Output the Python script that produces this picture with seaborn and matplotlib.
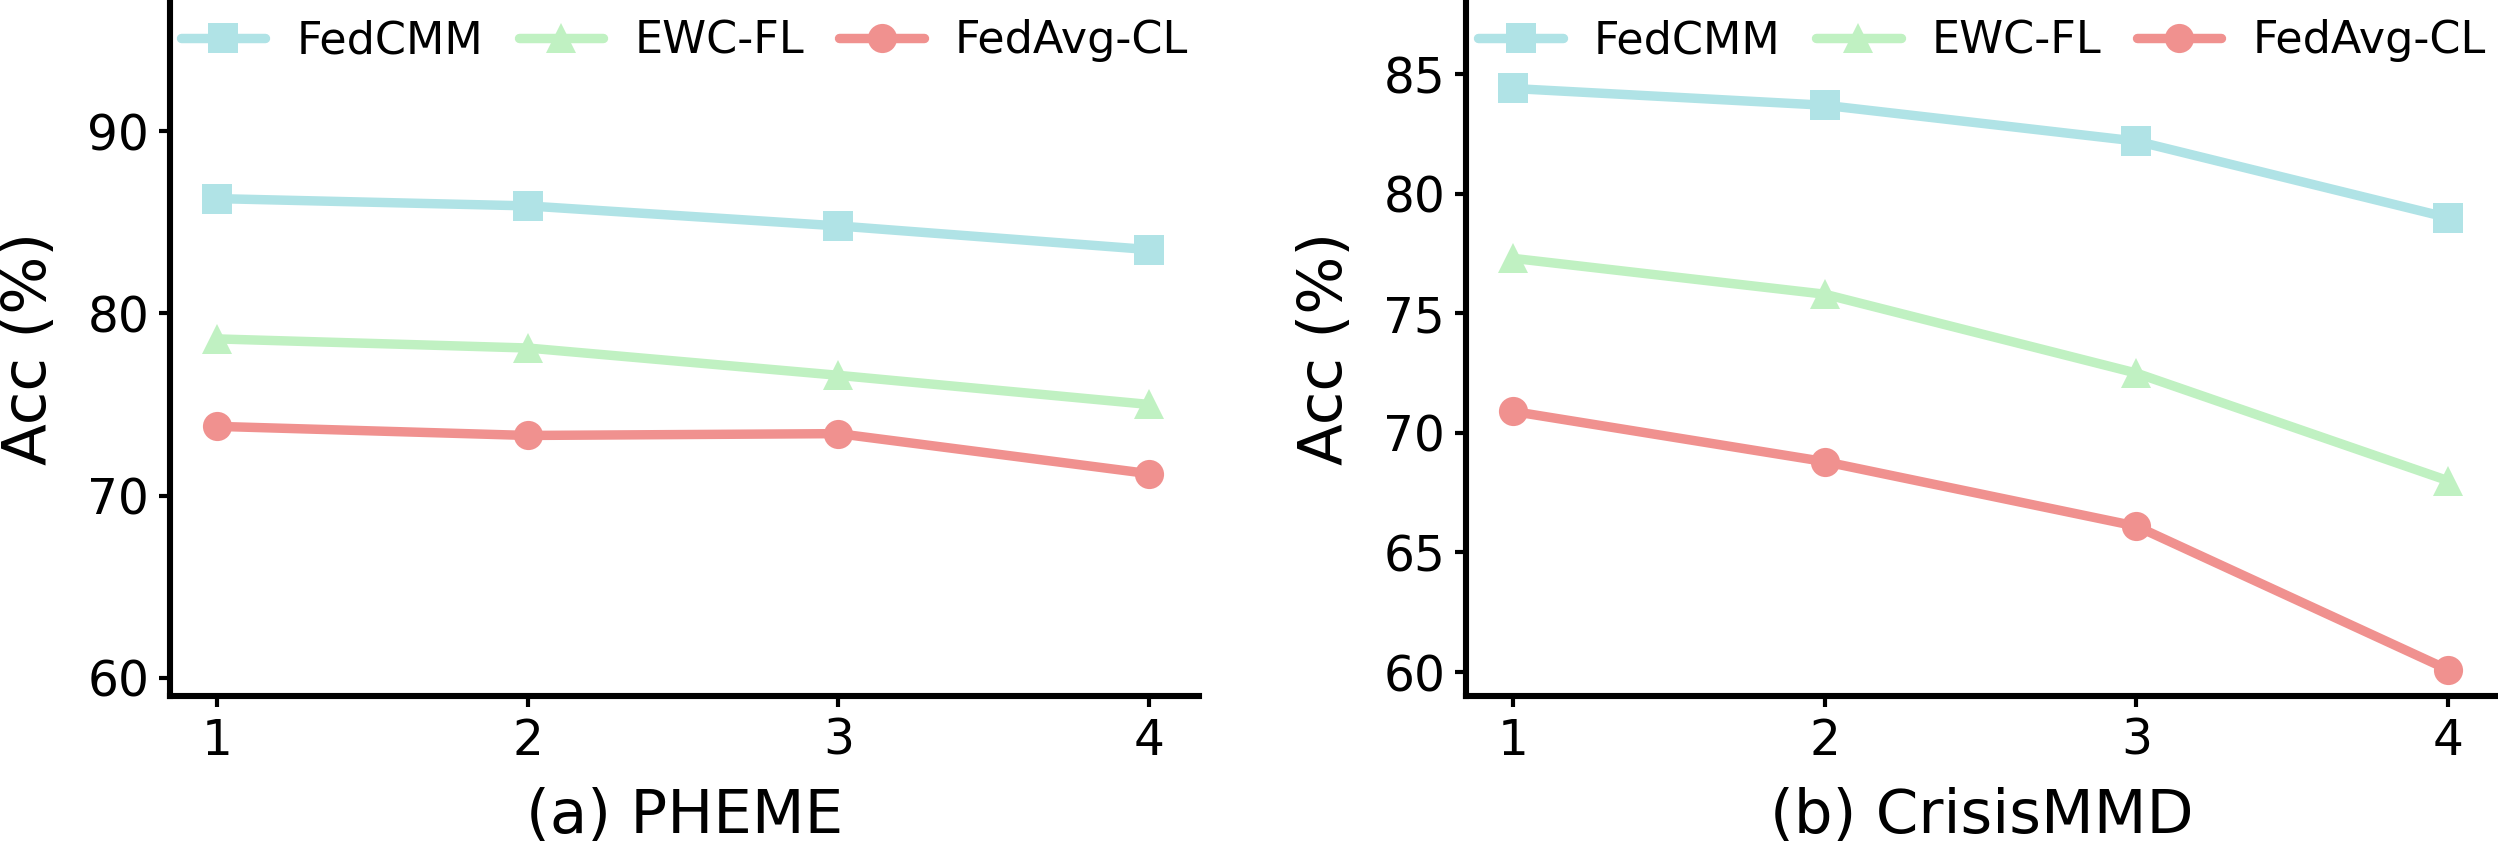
import pandas as pd
import matplotlib
matplotlib.use('Agg')
import matplotlib.pyplot as plt
import seaborn as sns

# data
tasks = [1, 2, 3, 4]
methods = ['FedCMM', 'EWC-FL', 'FedAvg-CL']

pheme_fedcmm = [86.3, 85.9, 84.8, 83.5]
pheme_ewc = [78.6, 78.1, 76.6, 75.0]
pheme_fedavg = [73.8, 73.3, 73.4, 71.2]

crisis_fedcmm = [84.4, 83.7, 82.2, 79.0]
crisis_ewc = [77.3, 75.8, 72.5, 68.0]
crisis_fedavg = [70.9, 68.8, 66.1, 60.1]

colors = {'FedCMM': '#b0e3e6', 'EWC-FL': '#c0f1c2', 'FedAvg-CL': '#f0918f'}
markers = {'FedCMM': 's', 'EWC-FL': '^', 'FedAvg-CL': 'o'}


def make_df(fedcmm, ewc, fedavg):
    rows = []
    for name, vals in zip(methods, [fedcmm, ewc, fedavg]):
        for t, v in zip(tasks, vals):
            rows.append({'task': t, 'acc': v, 'method': name})
    return pd.DataFrame(rows)


sns.set_theme(style='ticks', rc={'text.color': 'black', 'axes.labelcolor': 'black',
                                 'xtick.color': 'black', 'ytick.color': 'black',
                                 'axes.edgecolor': 'black'})
plt.rcParams['font.family'] = ['DejaVu Sans']

fig = plt.figure(figsize=(12.49, 4.23), dpi=200)
ax1 = fig.add_axes([0.0681, 0.1773, 0.4119, 0.8227])
ax2 = fig.add_axes([0.5869, 0.1773, 0.4131, 0.8227])

panels = [
    (ax1, make_df(pheme_fedcmm, pheme_ewc, pheme_fedavg), '(a) PHEME', (59, 97.2), [60, 70, 80, 90]),
    (ax2, make_df(crisis_fedcmm, crisis_ewc, crisis_fedavg), '(b) CrisisMMD', (59, 88.1), [60, 65, 70, 75, 80, 85]),
]

for ax, df, title, ylim, yticks in panels:
    sns.lineplot(data=df, x='task', y='acc', hue='method', style='method',
                 palette=colors, markers=markers, dashes=False, linewidth=3.4,
                 markersize=10.5, markeredgewidth=0, ax=ax)
    ax.set_xlim(0.85, 4.16)
    ax.set_ylim(*ylim)
    ax.set_xticks(tasks)
    ax.set_yticks(yticks)
    ax.tick_params(labelsize=17.5, width=1.5, length=4)
    for s in ['left', 'bottom']:
        ax.spines[s].set_linewidth(2.2)
    sns.despine(ax=ax)
    ax.set_xlabel(title, fontsize=22, labelpad=8)
    ax.set_ylabel('Acc (%)', fontsize=22)
    ax.yaxis.set_label_coords(-0.108, 0.5)
    ax.legend(loc='upper center', bbox_to_anchor=(0.5, 1.03), ncol=3, frameon=False,
              fontsize=16, columnspacing=0.8, handlelength=1.9, handletextpad=0.7)

fig.savefig('out.png', dpi=200)
